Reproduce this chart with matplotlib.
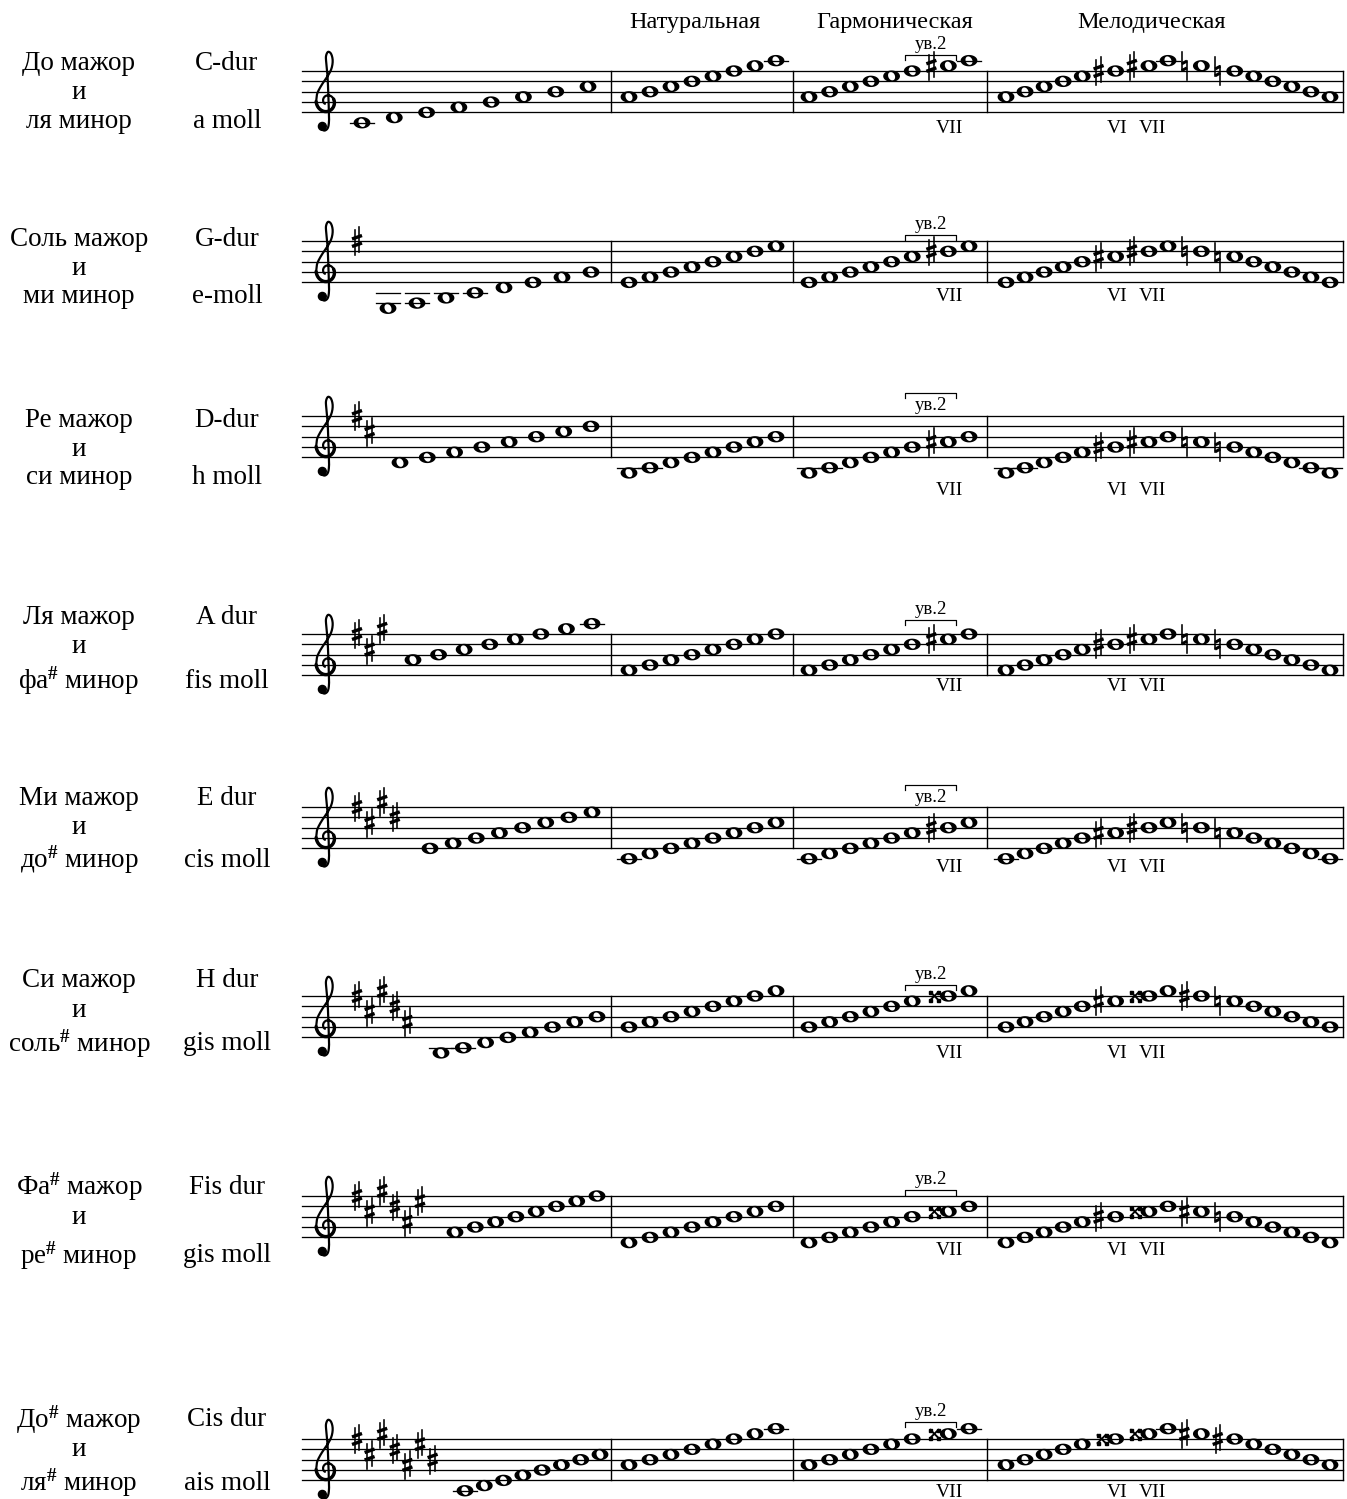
import numpy as np
import matplotlib
matplotlib.use('Agg')
import matplotlib.pyplot as plt
from matplotlib.path import Path
from matplotlib.patches import PathPatch, Circle

plt.rcParams['font.family'] = ['Liberation Serif', 'DejaVu Serif']
plt.rcParams['mathtext.fontset'] = 'custom'
plt.rcParams['mathtext.rm'] = 'Liberation Serif'
plt.rcParams['mathtext.it'] = 'Liberation Serif:italic'
plt.rcParams['mathtext.bf'] = 'Liberation Serif:bold'

# ---- data -------------------------------------------------------------
headers = ['Натуральная', 'Гармоническая', 'Мелодическая']
SH = '$^{\\mathbf{\\#}}$'
major_names = ['До мажор', 'Соль мажор', 'Ре мажор', 'Ля мажор', 'Ми мажор',
               'Си мажор', 'Фа' + SH + ' мажор', 'До' + SH + ' мажор']
minor_names = ['ля минор', 'ми минор', 'си минор', 'фа' + SH + ' минор',
               'до' + SH + ' минор', 'соль' + SH + ' минор',
               'ре' + SH + ' минор', 'ля' + SH + ' минор']
dur_names = ['C-dur', 'G-dur', 'D-dur', 'A dur', 'E dur', 'H dur', 'Fis dur', 'Cis dur']
moll_names = ['a moll', 'e-moll', 'h moll', 'fis moll', 'cis moll', 'gis moll', 'gis moll', 'ais moll']

key_sharps = [0, 1, 2, 3, 4, 5, 6, 7]
sharp_steps = [8, 5, 9, 6, 3, 7, 4]   # F C G D A E B in treble clef

# staff steps: 0 = bottom line (E4), 2 = G line, 8 = top line
major_steps = [
    [-2, -1, 0, 1, 2, 3, 4, 5],
    [-5, -4, -3, -2, -1, 0, 1, 2],
    [-1, 0, 1, 2, 3, 4, 5, 6],
    [3, 4, 5, 6, 7, 8, 9, 10],
    [0, 1, 2, 3, 4, 5, 6, 7],
    [-3, -2, -1, 0, 1, 2, 3, 4],
    [1, 2, 3, 4, 5, 6, 7, 8],
    [-2, -1, 0, 1, 2, 3, 4, 5],
]
natural_steps = [
    [3, 4, 5, 6, 7, 8, 9, 10],
    [0, 1, 2, 3, 4, 5, 6, 7],
    [-3, -2, -1, 0, 1, 2, 3, 4],
    [1, 2, 3, 4, 5, 6, 7, 8],
    [-2, -1, 0, 1, 2, 3, 4, 5],
    [2, 3, 4, 5, 6, 7, 8, 9],
    [-1, 0, 1, 2, 3, 4, 5, 6],
    [3, 4, 5, 6, 7, 8, 9, 10],
]
harmonic_steps = natural_steps
melodic_steps = [
    [3, 4, 5, 6, 7, 8, 9, 10, 9, 8, 7, 6, 5, 4, 3],
    [0, 1, 2, 3, 4, 5, 6, 7, 6, 5, 4, 3, 2, 1, 0],
    [-3, -2, -1, 0, 1, 2, 3, 4, 3, 2, 1, 0, -1, -2, -3],
    [1, 2, 3, 4, 5, 6, 7, 8, 7, 6, 5, 4, 3, 2, 1],
    [-2, -1, 0, 1, 2, 3, 4, 5, 4, 3, 2, 1, 0, -1, -2],
    [2, 3, 4, 5, 6, 7, 8, 9, 8, 7, 6, 5, 4, 3, 2],
    [-1, 0, 1, 2, 3, 4, 5, 6, 5, 4, 3, 2, 1, 0, -1],
    [3, 4, 5, 6, 7, 8, 9, 10, 9, 8, 7, 6, 5, 4, 3],
]
harmonic_acc = ['#', '#', '#', '#', '#', 'x', 'x', 'x']      # on note 7 (VII)
melodic_acc = [                                            # VI, VII up; VII, VI down
    ['#', '#', 'n', 'n'],
    ['#', '#', 'n', 'n'],
    ['#', '#', 'n', 'n'],
    ['#', '#', 'n', 'n'],
    ['#', '#', 'n', 'n'],
    ['#', 'x', '#', 'n'],
    ['#', 'x', '#', 'n'],
    ['x', 'x', '#', '#'],
]
melodic_acc_idx = [5, 6, 8, 9]

# ---- layout -----------------------------------------------------------
S = 10.35
staff_tops = [71, 241, 416, 634, 807, 996, 1196, 1439]
label_y = [(63, 92, 121), (239, 268, 296), (420, 449, 477), (617, 646, 681),
           (798, 827, 860), (980, 1010, 1044), (1187, 1218, 1256), (1420, 1450, 1483)]
m1_first = [362, 388, 400, 413, 430, 441, 455, 465]
m1_last = [588, 591, 591, 592, 592, 597, 597, 600]
bracket_off = [-16, -6, -23, -14, -22, -11, -6, -17]
bracket_text_below = [False, False, True, False, True, False, False, False]
numeral_off = [16, 14, 33, 11, 19, 16, 13, 12]
staff_x0, staff_x1 = 302, 1343
barlines = [611, 793, 987, 1343]

fig = plt.figure(figsize=(13.47, 14.99), dpi=100)
ax = fig.add_axes([0, 0, 1, 1])
ax.set_xlim(0, 1347)
ax.set_ylim(1499, 0)
ax.axis('off')

PX = 0.72  # points per pixel


def sy(top, step):
    return top + 4 * S - step * S / 2


def draw_note(x, y):
    t = np.linspace(0, 2 * np.pi, 48, endpoint=False)
    ox, oy = x + 8.4 * np.cos(t), y + 5.7 * np.sin(t)
    a = np.deg2rad(-25)
    hx0, hy0 = 3.3 * np.cos(t), 4.4 * np.sin(t)
    hx = x + hx0 * np.cos(a) - hy0 * np.sin(a)
    hy = y + hx0 * np.sin(a) + hy0 * np.cos(a)
    hx, hy = hx[::-1], hy[::-1]
    verts = list(zip(ox, oy)) + [(ox[0], oy[0])] + list(zip(hx, hy)) + [(hx[0], hy[0])]
    codes = ([Path.MOVETO] + [Path.LINETO] * 47 + [Path.CLOSEPOLY]) * 2
    ax.add_patch(PathPatch(Path(verts, codes), fc='black', ec='none', zorder=3))


def draw_ledgers(x, top, step):
    lines = []
    if step <= -2:
        lines = list(range(-2, step - 1, -2))
    elif step >= 10:
        lines = list(range(10, step + 1, 2))
    for ls in lines:
        y = sy(top, ls)
        ax.plot([x - 12, x + 12], [y, y], color='black', lw=1.3 * PX, zorder=2)


def draw_sharp(cx, cy):
    ax.plot([cx - 2.2, cx - 2.2], [cy - 11, cy + 14], color='black', lw=1.6 * PX, zorder=3)
    ax.plot([cx + 2.2, cx + 2.2], [cy - 14, cy + 11], color='black', lw=1.6 * PX, zorder=3)
    ax.plot([cx - 5, cx + 5], [cy - 2, cy - 5.5], color='black', lw=3.4 * PX,
            solid_capstyle='butt', zorder=3)
    ax.plot([cx - 5, cx + 5], [cy + 5.5, cy + 2], color='black', lw=3.4 * PX,
            solid_capstyle='butt', zorder=3)


def draw_natural(cx, cy):
    ax.plot([cx - 2.6, cx - 2.6], [cy - 14, cy + 5], color='black', lw=1.6 * PX, zorder=3)
    ax.plot([cx + 2.6, cx + 2.6], [cy - 5, cy + 14], color='black', lw=1.6 * PX, zorder=3)
    ax.plot([cx - 2.6, cx + 2.6], [cy - 2, cy - 4.8], color='black', lw=3 * PX,
            solid_capstyle='butt', zorder=3)
    ax.plot([cx - 2.6, cx + 2.6], [cy + 4.8, cy + 2], color='black', lw=3 * PX,
            solid_capstyle='butt', zorder=3)


def draw_dsharp(cx, cy):
    d = 4.0
    ax.plot([cx - d, cx + d], [cy - d, cy + d], color='black', lw=1.9 * PX, zorder=3)
    ax.plot([cx - d, cx + d], [cy + d, cy - d], color='black', lw=1.9 * PX, zorder=3)
    ax.plot([cx - d, cx + d, cx - d, cx + d], [cy - d, cy - d, cy + d, cy + d], 's',
            color='black', ms=3.0 * PX, zorder=3)


def draw_acc(kind, x, y):
    if kind == '#':
        draw_sharp(x - 17, y)
    elif kind == 'n':
        draw_natural(x - 17, y)
    else:
        draw_dsharp(x - 14, y)


def catmull(pts, n=10):
    pts = np.asarray(pts, float)
    P = np.vstack([pts[0], pts, pts[-1]])
    out = []
    for i in range(1, len(P) - 2):
        p0, p1, p2, p3 = P[i - 1], P[i], P[i + 1], P[i + 2]
        for t in np.linspace(0, 1, n, endpoint=False):
            out.append(0.5 * (2 * p1 + (-p0 + p2) * t + (2 * p0 - 5 * p1 + 4 * p2 - p3) * t * t
                              + (-p0 + 3 * p1 - 3 * p2 + p3) * t ** 3))
    out.append(P[-2])
    return np.array(out)


def draw_clef(cx, gy):
    th = np.linspace(1.25 * np.pi, -np.pi, 60)
    r = np.linspace(0.28, 1.05, 60)
    spiral = np.column_stack([r * np.cos(th), 0.05 + 1.1 * r * np.sin(th)])
    rest = [(-0.95, 0.8), (-0.55, 1.6), (0.0, 2.4), (0.42, 3.2), (0.55, 4.0), (0.4, 4.65),
            (0.1, 4.85), (-0.1, 4.4), (-0.05, 3.6), (0.05, 2.5), (0.12, 1.0), (0.17, -0.5),
            (0.2, -1.7), (0.1, -2.45), (-0.2, -2.75), (-0.55, -2.65)]
    pts = np.vstack([spiral, catmull(np.vstack([spiral[-1:], rest]))])
    ax.plot(cx + pts[:, 0] * S, gy - pts[:, 1] * S, color='black', lw=2.2 * PX,
            solid_capstyle='round', zorder=3)
    ax.plot(cx + spiral[30:, 0] * S, gy - spiral[30:, 1] * S, color='black', lw=3.4 * PX,
            solid_capstyle='round', zorder=3)
    ax.add_patch(Circle((cx - 0.45 * S, gy + 2.35 * S), 0.38 * S, color='black', zorder=3))


def layout(x0, x1, acc_flags, extra=0.75):
    gaps = np.array([1 + extra * f for f in acc_flags[1:]], float)
    d = (x1 - x0) / gaps.sum()
    return x0 + np.concatenate([[0], np.cumsum(gaps)]) * d


# headers
for name, hx in zip(headers, [695, 895, 1152]):
    ax.text(hx, 22, name, ha='center', va='center', fontsize=17.5)

for i in range(8):
    top = staff_tops[i]
    bot = top + 4 * S
    ly = label_y[i]
    ax.text(79, ly[0], major_names[i], ha='center', va='center', fontsize=19.5)
    ax.text(79, ly[1], 'и', ha='center', va='center', fontsize=19.5)
    ax.text(79, ly[2], minor_names[i], ha='center', va='center', fontsize=19.5)
    ax.text(227, ly[0], dur_names[i], ha='center', va='center', fontsize=19.5)
    ax.text(227, ly[2], moll_names[i], ha='center', va='center', fontsize=19.5)

    # staff
    for k in range(5):
        y = top + k * S
        ax.plot([staff_x0, staff_x1], [y, y], color='black', lw=1.3 * PX, zorder=1)
    for bx in barlines:
        ax.plot([bx, bx], [top, bot], color='black', lw=1.4 * PX, zorder=1)

    draw_clef(327, top + 3 * S)
    for k in range(key_sharps[i]):
        draw_sharp(357 + 12.6 * k, sy(top, sharp_steps[k]))

    # measure 1: major
    xs = layout(m1_first[i], m1_last[i], [0] * 8)
    for x, st in zip(xs, major_steps[i]):
        draw_ledgers(x, top, st)
        draw_note(x, sy(top, st))

    # measure 2: natural minor
    xs = layout(629, 776, [0] * 8)
    for x, st in zip(xs, natural_steps[i]):
        draw_ledgers(x, top, st)
        draw_note(x, sy(top, st))

    # measure 3: harmonic minor
    flags = [0] * 8
    flags[6] = 1
    xs = layout(809, 969, flags)
    for j, (x, st) in enumerate(zip(xs, harmonic_steps[i])):
        draw_ledgers(x, top, st)
        draw_note(x, sy(top, st))
        if j == 6:
            draw_acc(harmonic_acc[i], x, sy(top, st))
    # bracket "ув.2"
    by = top + bracket_off[i]
    bx0, bx1 = xs[5] - 7, xs[6] + 8
    ax.plot([bx0, bx0, bx1, bx1], [by + 5, by, by, by + 5], color='black', lw=1.2 * PX, zorder=3)
    ty = by + 12 if bracket_text_below[i] else by - 11
    ax.text((bx0 + bx1) / 2, ty, 'ув.2', ha='center', va='center', fontsize=13.5)
    ax.text(xs[6] + 1, bot + numeral_off[i], 'VII', ha='center', va='center', fontsize=14)

    # measure 4: melodic minor
    flags = [0] * 15
    for j in melodic_acc_idx:
        flags[j] = 1
    xs = layout(1006, 1330, flags)
    for j, (x, st) in enumerate(zip(xs, melodic_steps[i])):
        draw_ledgers(x, top, st)
        draw_note(x, sy(top, st))
        if j in melodic_acc_idx:
            draw_acc(melodic_acc[i][melodic_acc_idx.index(j)], x, sy(top, st))
    ax.text(xs[5] + 2, bot + numeral_off[i], 'VI', ha='center', va='center', fontsize=14)
    ax.text(xs[6] + 4, bot + numeral_off[i], 'VII', ha='center', va='center', fontsize=14)

fig.savefig('out.png', dpi=100, facecolor='white')
